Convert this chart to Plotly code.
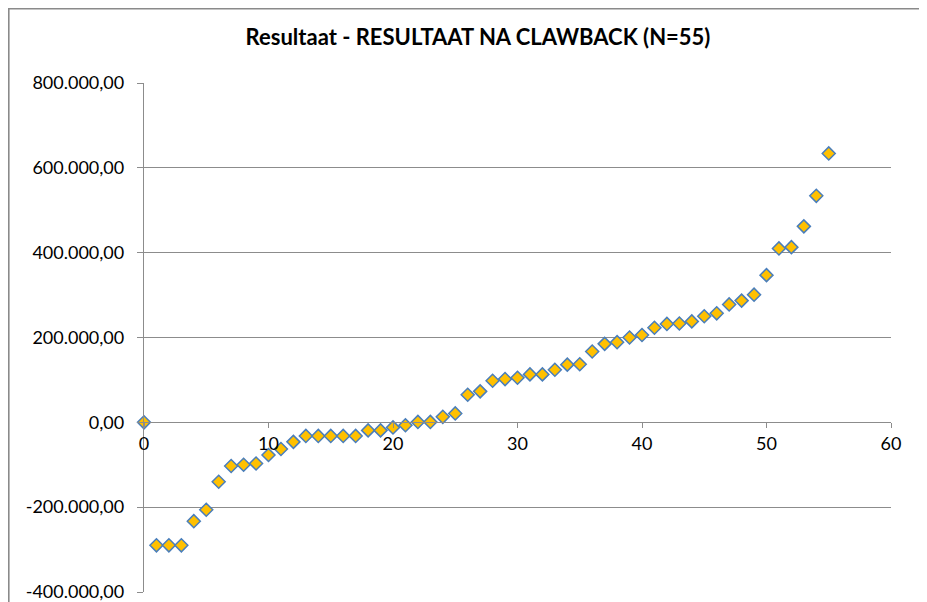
import plotly.graph_objects as go

# ---- data ----
case_index = [0, 1, 2, 3, 4, 5, 6, 7, 8, 9, 10, 11, 12, 13, 14, 15, 16, 17, 18, 19,
              20, 21, 22, 23, 24, 25, 26, 27, 28, 29, 30, 31, 32, 33, 34, 35, 36, 37,
              38, 39, 40, 41, 42, 43, 44, 45, 46, 47, 48, 49, 50, 51, 52, 53, 54, 55]
resultaat = [0, -290000, -290000, -290000, -233000, -206000, -140000, -103000, -100000,
             -97000, -77000, -63000, -46000, -32000, -32000, -32000, -32000, -32000,
             -19000, -19000, -12000, -7000, 1000, 1000, 13000, 21000, 65000, 73000,
             98000, 102000, 105000, 113000, 113000, 124000, 136000, 137000, 167000,
             185000, 189000, 200000, 206000, 223000, 232000, 233000, 238000, 250000,
             257000, 278000, 287000, 301000, 347000, 410000, 413000, 462000, 534000,
             634000]
y_tickvals = [-400000, -200000, 0, 200000, 400000, 600000, 800000]
y_ticktext = ["-400.000,00", "-200.000,00", "0,00", "200.000,00", "400.000,00",
              "600.000,00", "800.000,00"]
x_tickvals = [0, 10, 20, 30, 40, 50, 60]
x_ticktext = ["0", "10", "20", "30", "40", "50", "60"]
title_text = "Resultaat - RESULTAAT NA CLAWBACK (N=55)"

OFF = 8  # page body margin
W, H = 927 - OFF, 602 - OFF
L, T = 144 - OFF, 83 - OFF
R = W - (891 - OFF)
B = H - (592 - OFF)
pw, ph = W - L - R, H - T - B

grid = "#8c8c8c"
font = "Lato, 'Open Sans', sans-serif"

fig = go.Figure()
fig.add_trace(go.Scatter(
    x=case_index, y=resultaat, mode="markers",
    marker=dict(symbol="diamond", size=10, color="#FFC000",
                line=dict(color="#4A7EBB", width=1.5)),
    showlegend=False, cliponaxis=False,
))

# chart-area border (top and left edges visible), drawn as one open path
# pixel offsets relative to the plot's top-left corner (y positive = up)
bx = 0.8 - L
by = T - 0.8
fig.add_shape(type="path", xref="x domain", yref="y domain", xsizemode="pixel",
              ysizemode="pixel", xanchor=0, yanchor=1,
              path=f"M {bx},{-(ph + B + 5)} L {bx},{by} L {pw + R + 5},{by}",
              line=dict(color="#8a8a8a", width=1.6))

fig.update_layout(
    width=W, height=H,
    margin=dict(l=L, r=R, t=T, b=B, autoexpand=False),
    paper_bgcolor="white", plot_bgcolor="white",
    font=dict(family=font, size=18, color="#000000"),
    title=dict(text="<b>" + title_text + "</b>", xref="container",
               x=(478 - OFF) / W, xanchor="center",
               y=1 - (37 - OFF) / H, yanchor="middle",
               font=dict(family=font, size=22, color="#000000")),
    xaxis=dict(range=[0, 60], tickvals=x_tickvals, ticktext=x_ticktext,
               showgrid=False, zeroline=False, showline=True, linecolor=grid,
               linewidth=1.3, ticks="outside", ticklen=5, tickcolor=grid,
               anchor="free", position=1 / 3, ticklabelstandoff=0,
               automargin=False, ticklabeloverflow="allow"),
    yaxis=dict(range=[-400000, 800000], tickvals=y_tickvals, ticktext=y_ticktext,
               showgrid=True, gridcolor=grid, gridwidth=1.3, zeroline=False,
               showline=True, linecolor=grid, linewidth=1.3, ticks="outside",
               ticklen=6, tickcolor=grid, ticklabelstandoff=9, automargin=False,
               ticklabeloverflow="allow"),
)

fig.write_html("out.html", config={"displayModeBar": False},
               post_script="document.documentElement.style.overflow='hidden';"
                           "document.body.style.overflow='hidden';")
